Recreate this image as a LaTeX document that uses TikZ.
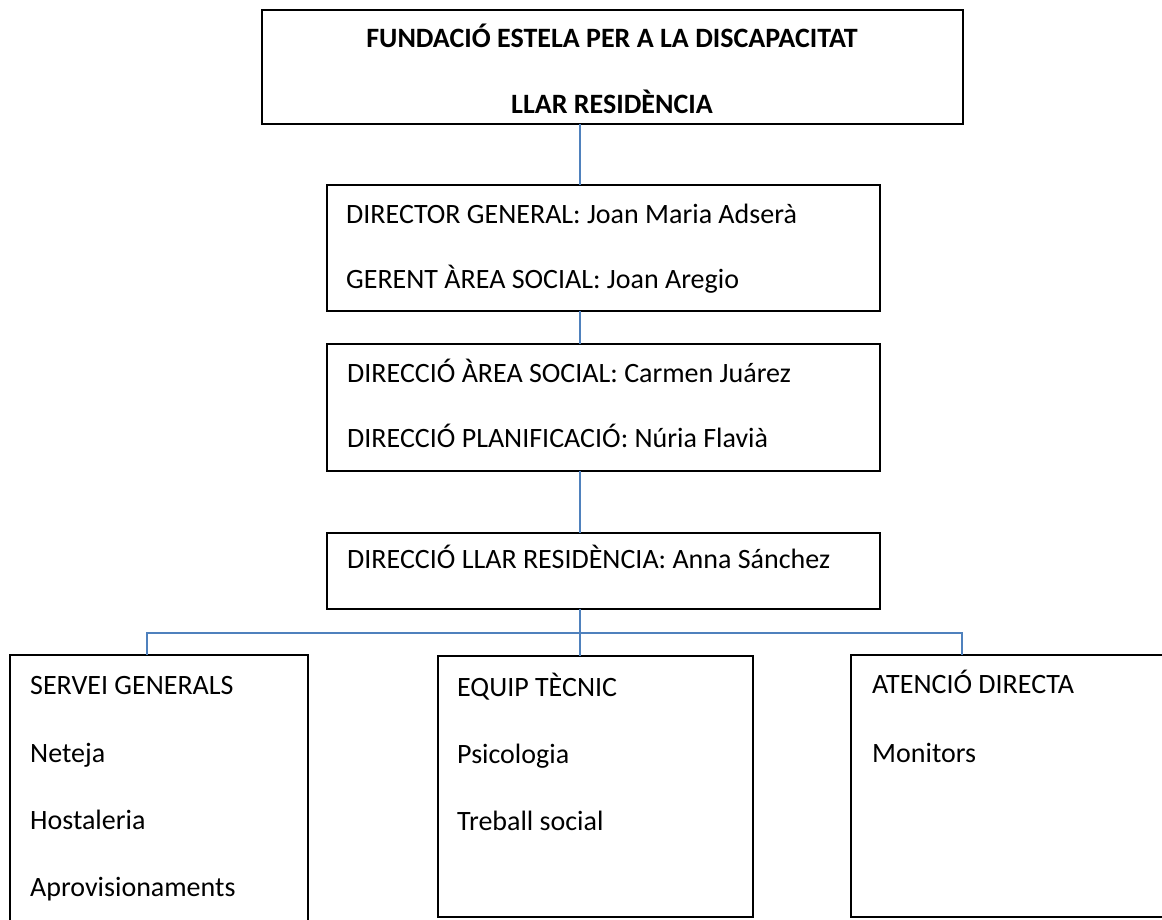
\documentclass[tikz,border=0pt]{standalone}
\usepackage{fontspec}
\setmainfont{Carlito}
\definecolor{linkblue}{RGB}{79,129,189}
\begin{document}
\begin{tikzpicture}[x=1pt,y=-1pt,
  box/.style={draw=black, line width=2.6pt, anchor=north west, inner sep=0pt, outer sep=0pt},
  link/.style={draw=linkblue, line width=1.8pt},
  txt/.style={anchor=base west, inner sep=0pt, font=\fontsize{28}{34}\selectfont},
  head/.style={anchor=base, inner sep=0pt, font=\fontsize{28}{34}\selectfont\bfseries}]
\useasboundingbox (0,0) rectangle (1162,919);
\fill[white] (0,0) rectangle (1162,919);
\clip (0,0) rectangle (1162,919);

% boxes
\node[box, minimum width=701pt, minimum height=114pt] (top) at (262,10) {};
\node[box, minimum width=553pt, minimum height=126pt] (dg)  at (327,185) {};
\node[box, minimum width=553pt, minimum height=127pt] (das) at (327,344) {};
\node[box, minimum width=553pt, minimum height=76pt]  (dlr) at (327,533) {};
\node[box, minimum width=298pt, minimum height=300pt] (sg)  at (10,655) {};
\node[box, minimum width=315pt, minimum height=261pt] (et)  at (438,656) {};
\node[box, minimum width=350pt, minimum height=262pt] (ad)  at (851,655) {};

% connector guides
\coordinate (tx) at (580,0);
\coordinate (sgx) at (147,0);
\coordinate (adx) at (962,0);
\coordinate (bus) at (0,633);

\draw[link] (top.south -| tx) -- (dg.north -| tx);
\draw[link] (dg.south -| tx) -- (das.north -| tx);
\draw[link] (das.south -| tx) -- (dlr.north -| tx);
\draw[link] (dlr.south -| tx) -- (et.north -| tx);
\draw[link] (sg.north -| sgx) |- (bus -| tx) -| (ad.north -| adx);

% texts
\node[head] (t1) at (612,47) {FUNDACIÓ ESTELA PER A LA DISCAPACITAT};
\node[head] (t2) at (612,113) {LLAR RESIDÈNCIA};

\node[txt] (g1) at (346,223) {DIRECTOR GENERAL: Joan Maria Adserà};
\node[txt] (g2) at (346,288) {GERENT ÀREA SOCIAL: Joan Aregio};

\node[txt] (s1) at (347,382) {DIRECCIÓ ÀREA SOCIAL: Carmen Juárez};
\node[txt] (s2) at (347,447) {DIRECCIÓ PLANIFICACIÓ: Núria Flavià};

\node[txt] (l1) at (347,568) {DIRECCIÓ LLAR RESIDÈNCIA: Anna Sánchez};

\node[txt] (a1) at (30,694) {SERVEI GENERALS};
\node[txt] (a2) at (30,762) {Neteja};
\node[txt] (a3) at (30,829) {Hostaleria};
\node[txt] (a4) at (30,896) {Aprovisionaments};

\node[txt] (b1) at (457,696) {EQUIP TÈCNIC};
\node[txt] (b2) at (457,763) {Psicologia};
\node[txt] (b3) at (457,830) {Treball social};

\node[txt] (c1) at (872,693) {ATENCIÓ DIRECTA};
\node[txt] (c2) at (872,762) {Monitors};
\end{tikzpicture}
\end{document}
